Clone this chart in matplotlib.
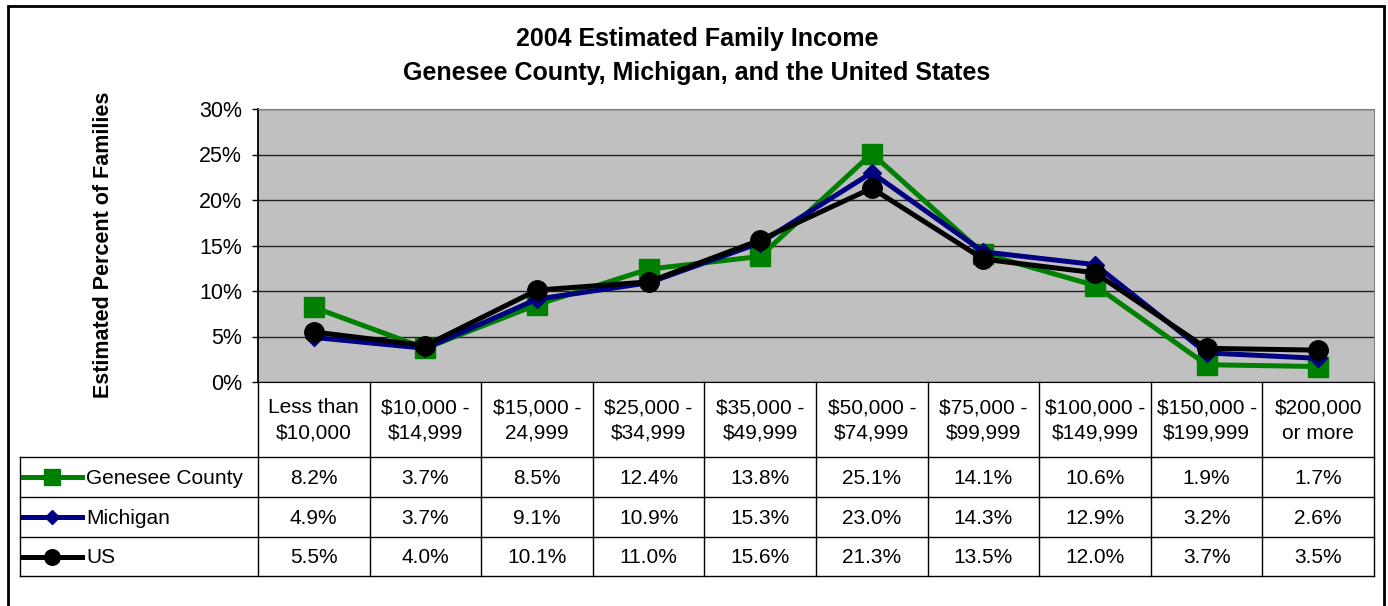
import matplotlib.pyplot as plt
from matplotlib.lines import Line2D
from matplotlib.patches import Rectangle
from matplotlib.ticker import PercentFormatter

plt.rcParams['font.family'] = ['Liberation Sans', 'DejaVu Sans']

# === DATA ===
categories = ["Less than\n$10,000", "$10,000 -\n$14,999", "$15,000 -\n24,999", "$25,000 -\n$34,999",
              "$35,000 -\n$49,999", "$50,000 -\n$74,999", "$75,000 -\n$99,999", "$100,000 -\n$149,999",
              "$150,000 -\n$199,999", "$200,000\nor more"]
genesee = [8.2, 3.7, 8.5, 12.4, 13.8, 25.1, 14.1, 10.6, 1.9, 1.7]
michigan = [4.9, 3.7, 9.1, 10.9, 15.3, 23.0, 14.3, 12.9, 3.2, 2.6]
us = [5.5, 4.0, 10.1, 11.0, 15.6, 21.3, 13.5, 12.0, 3.7, 3.5]
series_names = ["Genesee County", "Michigan", "US"]

# === LAYOUT (pixels) ===
W, H = 1388, 606
def fx(px):
    return px / W
def fy(py):
    return 1 - py / H

left, right, top, bottom = 258, 1374, 109, 382
rows_y = [457, 497, 537, 576]
tbl_left = 20

styles = [
    dict(color='#008000', marker='s', ms=14),
    dict(color='#000080', marker='D', ms=9),
    dict(color='black', marker='o', ms=14),
]

fig = plt.figure(figsize=(W / 100, H / 100), dpi=100)
fig.add_artist(Rectangle((fx(8), fy(640)), fx(1384) - fx(8), fy(6) - fy(640),
                         transform=fig.transFigure, fill=False, lw=2, ec='black'))

ax = fig.add_axes([fx(left), fy(bottom), fx(right) - fx(left), fy(top) - fy(bottom)])
ax.set_facecolor('#C0C0C0')
x = range(len(categories))
for vals, st in zip([genesee, michigan, us], styles):
    ax.plot(x, vals, color=st['color'], lw=3.6, marker=st['marker'], ms=st['ms'],
            mec=st['color'], mfc=st['color'])
ax.set_xlim(-0.5, len(categories) - 0.5)
ax.set_ylim(0, 30)
ax.set_yticks(range(0, 31, 5))
ax.yaxis.set_major_formatter(PercentFormatter(decimals=0))
ax.grid(axis='y', color='#222222', lw=1)
ax.set_axisbelow(True)
ax.set_xticks([])
ax.tick_params(axis='y', labelsize=15.5, length=4.5, width=1, pad=7)
for s in ['top', 'right', 'left', 'bottom']:
    ax.spines[s].set_color('#808080')
ax.spines['left'].set_color('black')
ax.spines['left'].set_linewidth(1.3)
ax.spines['bottom'].set_color('black')

fig.text(fx(697), fy(56), "2004 Estimated Family Income\nGenesee County, Michigan, and the United States",
         ha='center', va='center', fontsize=18, fontweight='bold', linespacing=1.55)
fig.text(fx(104), fy(245), "Estimated Percent of Families", rotation=90, ha='center', va='center',
         fontsize=15.5, fontweight='bold')

# === DATA TABLE ===
def hline(x0, x1, y):
    fig.add_artist(Line2D([fx(x0), fx(x1)], [fy(y), fy(y)], transform=fig.transFigure, color='black', lw=1))
def vline(x0, y0, y1):
    fig.add_artist(Line2D([fx(x0), fx(x0)], [fy(y0), fy(y1)], transform=fig.transFigure, color='black', lw=1))

col_w = (right - left) / len(categories)
for i in range(len(categories) + 1):
    vline(left + i * col_w, bottom, rows_y[-1])
for y in rows_y:
    hline(tbl_left, right, y)
vline(tbl_left, rows_y[0], rows_y[-1])

for i, cat in enumerate(categories):
    fig.text(fx(left + (i + 0.5) * col_w), fy((bottom + rows_y[0]) / 2 + 1), cat,
             ha='center', va='center', fontsize=15, linespacing=1.45)

for r, (name, vals, st) in enumerate(zip(series_names, [genesee, michigan, us], styles)):
    yc = (rows_y[r] + rows_y[r + 1]) / 2
    fig.add_artist(Line2D([fx(23), fx(82)], [fy(yc), fy(yc)], transform=fig.transFigure,
                          color=st['color'], lw=3.6))
    fig.add_artist(Line2D([fx(52)], [fy(yc)], transform=fig.transFigure, color=st['color'],
                          marker=st['marker'], ms=st['ms'] * 0.8, mfc=st['color'], mec=st['color']))
    fig.text(fx(86), fy(yc + 1), name, ha='left', va='center', fontsize=15)
    for i, v in enumerate(vals):
        fig.text(fx(left + (i + 0.5) * col_w), fy(yc + 1), f"{v:.1f}%", ha='center', va='center', fontsize=15)

fig.savefig("out.png", dpi=100)
